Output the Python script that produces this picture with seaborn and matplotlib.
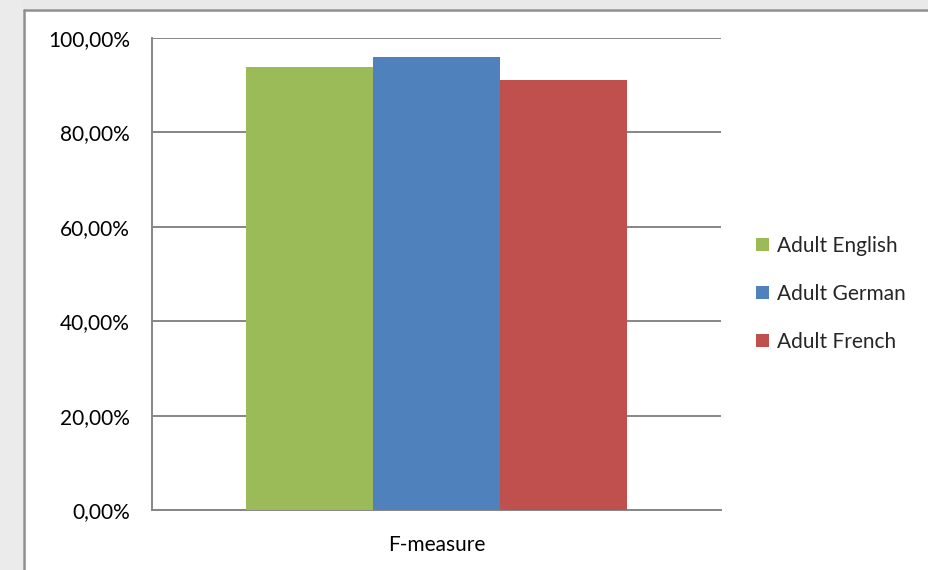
import matplotlib
matplotlib.use("Agg")
import matplotlib.pyplot as plt
from matplotlib.patches import Rectangle
from matplotlib.lines import Line2D
from matplotlib.ticker import FuncFormatter
import seaborn as sns
import pandas as pd

# Data
metric = ["F-measure"]
series = ["Adult English", "Adult German", "Adult French"]
values = [93.9, 96.0, 91.2]
colors = ["#9BBB59", "#4F81BD", "#C0504D"]
yticks = [0, 20, 40, 60, 80, 100]

df = pd.DataFrame({
    "metric": metric * len(series),
    "series": series,
    "value": values,
})

sns.set_style("white")
plt.rcParams["font.family"] = ["Lato", "DejaVu Sans"]
FS = 15

fig = plt.figure(figsize=(9.29, 5.70), dpi=100)
fig.patch.set_facecolor("white")

# Grey surround and frame of the chart box
fig.patches.append(Rectangle((0, 1 - 9 / 570), 1, 9 / 570, transform=fig.transFigure,
                             facecolor="#e9e9e9", edgecolor="none", zorder=0))
fig.patches.append(Rectangle((0, 0), 23 / 929, 1, transform=fig.transFigure,
                             facecolor="#ebebeb", edgecolor="none", zorder=0))
fig.lines.append(Line2D([23.5 / 929, 1], [1 - 9.5 / 570, 1 - 9.5 / 570], transform=fig.transFigure,
                        color="#8e8e8e", lw=1.8))
fig.lines.append(Line2D([23.5 / 929, 23.5 / 929], [0, 1 - 9.5 / 570], transform=fig.transFigure,
                        color="#8e8e8e", lw=1.8))

ax = fig.add_axes([152 / 929, 1 - 510 / 570, (721 - 152) / 929, (510 - 38) / 570])
sns.barplot(data=df, x="metric", y="value", hue="series", hue_order=series,
            palette=colors, width=0.668, linewidth=0, saturation=1, ax=ax, zorder=3)

ax.set_xlim(-0.5, 0.5)
ax.set_ylim(0, 100)
ax.set_yticks(yticks)
ax.yaxis.set_major_formatter(FuncFormatter(lambda v, p: f"{v:.2f}%".replace(".", ",")))
ax.grid(axis="y", color="#868686", lw=1.4, zorder=0)
ax.set_axisbelow(True)

for s in ["top", "right"]:
    ax.spines[s].set_visible(False)
for s in ["left", "bottom"]:
    ax.spines[s].set_color("#868686")
    ax.spines[s].set_linewidth(1.4)

ax.tick_params(axis="y", length=7, width=1.4, color="#868686", direction="out",
               labelsize=FS, pad=9, labelcolor="black")
ax.tick_params(axis="x", length=0, labelsize=FS, pad=18, labelcolor="black")
ax.set_xticks([-0.5, 0.5], minor=True)
ax.tick_params(axis="x", which="minor", length=7, width=1.4, color="#868686", direction="out")
ax.set_xlabel("")
ax.set_ylabel("")

leg = ax.legend(loc="center left", bbox_to_anchor=(1.028, 0.458), frameon=False,
                fontsize=FS, handlelength=0.63, handleheight=0.63, handletextpad=0.4,
                labelspacing=1.35)

fig.savefig("out.png", dpi=100)
